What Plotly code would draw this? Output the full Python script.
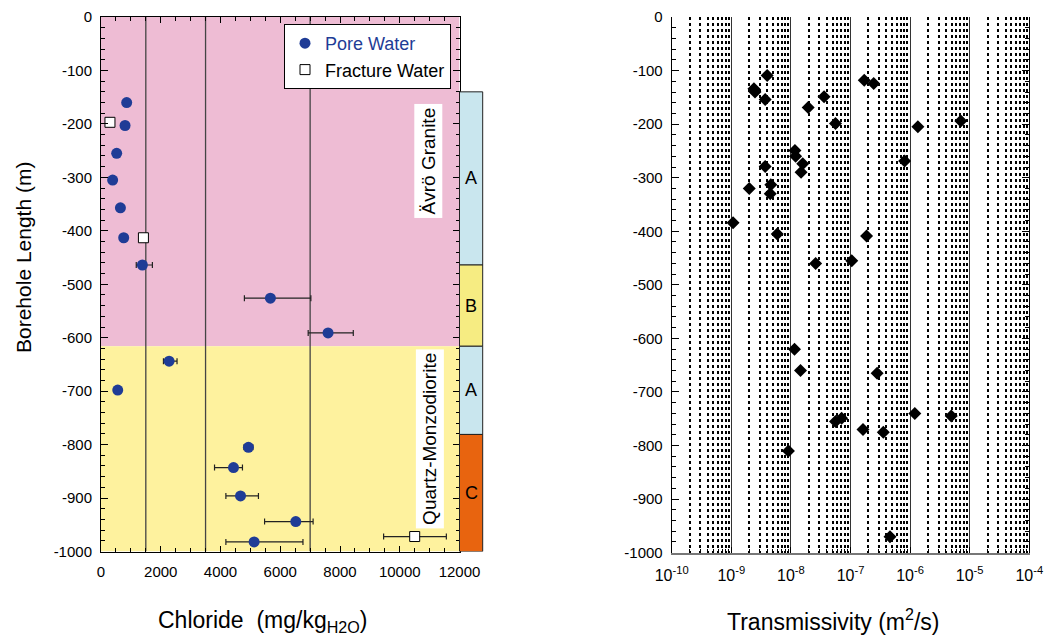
import plotly.graph_objects as go

# ---------------- data ----------------
pore_cl = [860, 805, 525, 390, 650, 760, 1385, 5670, 7600, 2280, 560, 4935, 4435, 4670, 6520, 5125]
pore_depth = [-160, -203, -255, -305, -357, -413, -464, -526, -591, -644, -698, -805, -843, -896, -944, -982]
pore_err_plus = [0, 0, 0, 0, 0, 0, 335, 1355, 845, 265, 0, 150, 300, 600, 580, 1635]
pore_err_minus = [0, 0, 0, 0, 0, 0, 205, 870, 665, 190, 0, 150, 635, 490, 1045, 945]

frac_cl = [300, 1420, 10500]
frac_depth = [-197, -413, -972]
frac_err_plus = [0, 0, 1060]
frac_err_minus = [0, 0, 1040]

trans_T = [4.0e-9, 2.4e-9, 2.5e-9, 3.7e-9, 1.95e-8, 3.6e-8, 5.6e-8, 1.7e-7, 2.45e-7, 1.35e-6,
           7.1e-6, 1.17e-8, 1.2e-8, 1.58e-8, 1.48e-8, 3.7e-9, 2.0e-9, 4.6e-9, 4.5e-9, 8.1e-7,
           1.07e-9, 5.9e-9, 1.86e-7, 2.6e-8, 1.05e-7, 1.15e-8, 1.45e-8, 2.8e-7, 5.6e-8, 7.1e-8,
           1.62e-7, 3.55e-7, 1.2e-6, 4.9e-6, 9.1e-9, 4.6e-7]
trans_depth = [-109, -134, -140, -154, -169, -149, -199, -118, -124, -205,
               -194, -249, -260, -274, -290, -279, -320, -313, -330, -269,
               -384, -405, -409, -460, -455, -620, -660, -665, -755, -749,
               -770, -775, -740, -745, -810, -970]

# rock zones (background)
rock_top = [0, -616]
rock_bottom = [-616, -1000]
rock_colors = ["#EEBCD4", "#FEF29E"]
rock_names = ["Ävrö Granite", "Quartz-Monzodiorite"]
rock_label_x = [10950, 11000]
rock_label_y = [-270, -790]

# class strip
class_top = [-140, -464, -616, -781]
class_bottom = [-464, -616, -781, -1000]
class_names = ["A", "B", "A", "C"]
class_colors = ["#C9E6EE", "#F6EC82", "#C9E6EE", "#E8640F"]

# reference lines
ref_cl = [1500, 3500, 7000]

cl_ticks = [0, 2000, 4000, 6000, 8000, 10000, 12000]
cl_ticktext = ["0", "2000", "4000", "6000", "8000", "10000", "12000"]
depth_ticks = [0, -100, -200, -300, -400, -500, -600, -700, -800, -900, -1000]
depth_ticktext = ["0", "-100", "-200", "-300", "-400", "-500", "-600", "-700", "-800", "-900", "-1000"]
t_ticks = [1e-10, 1e-9, 1e-8, 1e-7, 1e-6, 1e-5, 1e-4]
t_ticktext = ["10<sup>-10</sup>", "10<sup>-9</sup>", "10<sup>-8</sup>", "10<sup>-7</sup>",
              "10<sup>-6</sup>", "10<sup>-5</sup>", "10<sup>-4</sup>"]
t_minor = [m * d for d in t_ticks[:-1] for m in range(2, 10)]

FONT = "Liberation Sans, Arial, Helvetica, sans-serif"
BLUE = "#1F3C96"

fig = go.Figure()

fig.add_trace(go.Scatter(
    x=pore_cl, y=pore_depth, mode="markers", xaxis="x", yaxis="y",
    name='<span style="color:%s">Pore Water</span>' % BLUE,
    marker=dict(symbol="circle", size=11, color=BLUE),
    error_x=dict(type="data", array=pore_err_plus, arrayminus=pore_err_minus,
                 color="#222", thickness=1.2, width=3),
))
fig.add_trace(go.Scatter(
    x=frac_cl, y=frac_depth, mode="markers", xaxis="x", yaxis="y",
    name="Fracture Water",
    marker=dict(symbol="square", size=10, color="white", line=dict(color="black", width=1)),
    error_x=dict(type="data", array=frac_err_plus, arrayminus=frac_err_minus,
                 color="#222", thickness=1.2, width=3),
))
fig.add_trace(go.Scatter(
    x=trans_T, y=trans_depth, mode="markers", xaxis="x2", yaxis="y2",
    showlegend=False,
    marker=dict(symbol="diamond", size=10, color="black"),
))

shapes = []
for t, b, c in zip(rock_top, rock_bottom, rock_colors):
    shapes.append(dict(type="rect", xref="x", yref="y", x0=cl_ticks[0], x1=cl_ticks[-1],
                       y0=b, y1=t, fillcolor=c, line=dict(width=0), layer="below"))
for v in ref_cl:
    shapes.append(dict(type="line", xref="x", yref="y", x0=v, x1=v, y0=-1000, y1=0,
                       line=dict(color="#444", width=1.3), layer="below"))

X0S, X1S = 459.5 / 1045, 482.7 / 1045
annotations = []
for t, b, n, c in zip(class_top, class_bottom, class_names, class_colors):
    shapes.append(dict(type="rect", xref="paper", yref="y", x0=X0S, x1=X1S, y0=b, y1=t,
                       fillcolor=c, line=dict(color="#222", width=1)))
    annotations.append(dict(xref="paper", yref="y", x=(X0S + X1S) / 2, y=(t + b) / 2,
                            xanchor="center", yanchor="middle",
                            text=n, showarrow=False, font=dict(family=FONT, size=18, color="black")))

for n, x, y in zip(rock_names, rock_label_x, rock_label_y):
    annotations.append(dict(xref="x", yref="y", x=x, y=y, text=n, textangle=-90,
                            xanchor="center", yanchor="middle",
                            showarrow=False, bgcolor="white", borderpad=3,
                            font=dict(family=FONT, size=19, color="black")))

# axis titles
annotations.append(dict(xref="paper", yref="paper", x=24 / 1045, y=1 - 258 / 642,
                        xanchor="center", yanchor="middle",
                        text="Borehole Length (m)", textangle=-90, showarrow=False,
                        font=dict(family=FONT, size=21, color="black")))
annotations.append(dict(xref="paper", yref="paper", x=263 / 1045, y=1 - 621 / 642,
                        xanchor="center", yanchor="middle",
                        text="Chloride  (mg/kg<sub>H2O</sub>)", showarrow=False,
                        font=dict(family=FONT, size=23, color="black")))
annotations.append(dict(xref="paper", yref="paper", x=833 / 1045, y=1 - 620 / 642,
                        xanchor="center", yanchor="middle",
                        text="Transmissivity (m<sup>2</sup>/s)", showarrow=False,
                        font=dict(family=FONT, size=23, color="black")))

axis_common = dict(showgrid=False, zeroline=False, showline=True, linecolor="black",
                   linewidth=1, ticks="inside", tickcolor="black", automargin=False,
                   tickfont=dict(family=FONT, size=15, color="black"))

fig.update_layout(
    width=1045, height=642,
    margin=dict(l=0, r=0, t=0, b=0, autoexpand=False),
    paper_bgcolor="white", plot_bgcolor="white",
    font=dict(family=FONT, color="black"),
    shapes=shapes, annotations=annotations,
    legend=dict(x=451 / 1045, y=1 - 24 / 642, xanchor="right", yanchor="top",
                bgcolor="white", bordercolor="black", borderwidth=1,
                font=dict(family=FONT, size=18, color="black"),
                tracegroupgap=0, itemwidth=30),
    xaxis=dict(**axis_common, domain=[101 / 1045, 459.5 / 1045], range=[0, 12000],
               tickvals=cl_ticks, ticktext=cl_ticktext, ticklen=6, mirror="allticks",
               minor=dict(dtick=500, ticks="inside", ticklen=4, tickcolor="black"),
               anchor="y", ticklabelstandoff=6),
    yaxis=dict(**axis_common, domain=[1 - 551.5 / 642, 1 - 17 / 642], range=[-1000, 0],
               tickvals=depth_ticks, ticktext=depth_ticktext, ticklen=7, mirror="allticks",
               minor=dict(dtick=20, ticks="inside", ticklen=4, tickcolor="black"),
               anchor="x", ticklabelstandoff=5),
    xaxis2=dict(showline=True, linecolor="#777", linewidth=2, zeroline=False, automargin=False,
                type="log", range=[-10, -4], domain=[671.7 / 1045, 1029.3 / 1045],
                tickvals=t_ticks, ticktext=t_ticktext, ticks="inside", ticklen=6,
                tickcolor="black", tickfont=dict(family=FONT, size=16, color="black"),
                showgrid=True, gridcolor="#333", gridwidth=1.4,
                minor=dict(tickvals=t_minor, ticks="inside", ticklen=4, tickcolor="black",
                           showgrid=True, gridcolor="black", griddash="dot", gridwidth=1.5),
                anchor="y2", ticklabelstandoff=7),
    yaxis2=dict(**axis_common, domain=[1 - 552.7 / 642, 1 - 17 / 642], range=[-1000, 0],
                tickvals=depth_ticks, ticktext=depth_ticktext, ticklen=7, mirror="allticks",
                minor=dict(dtick=20, ticks="inside", ticklen=4, tickcolor="black"),
                anchor="x2", ticklabelstandoff=5),
)

fig.write_html("out.html")
